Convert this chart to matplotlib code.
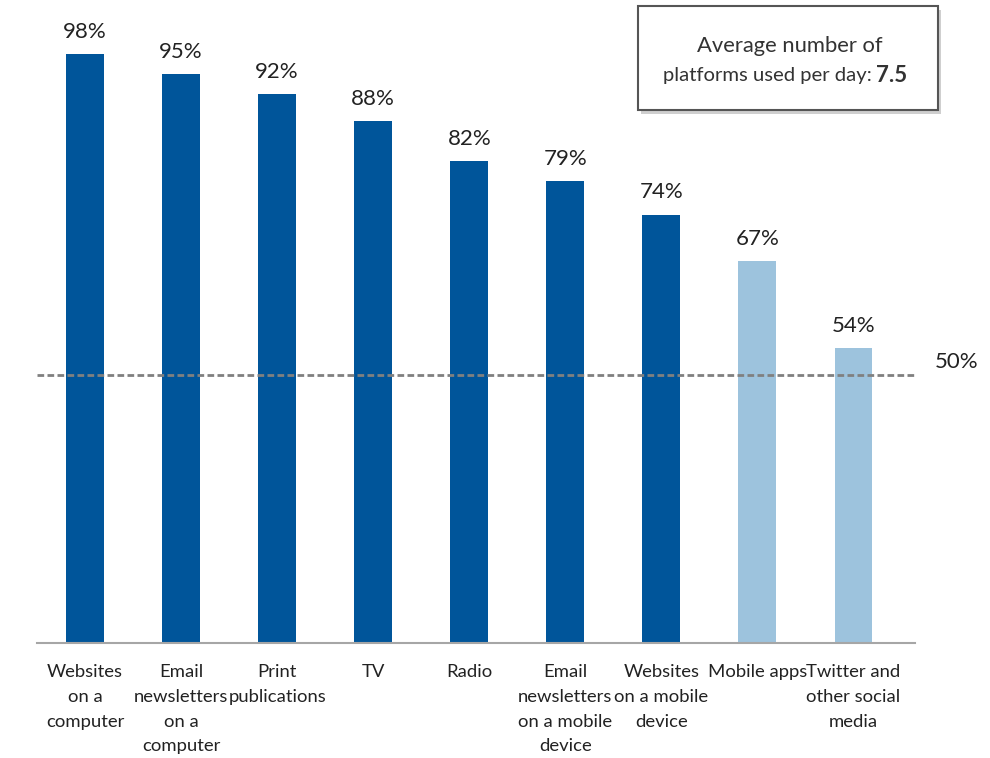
import matplotlib.pyplot as plt
from matplotlib.patches import Rectangle

categories = [
    "Websites\non a\ncomputer",
    "Email\nnewsletters\non a\ncomputer",
    "Print\npublications",
    "TV",
    "Radio",
    "Email\nnewsletters\non a mobile\ndevice",
    "Websites\non a mobile\ndevice",
    "Mobile apps",
    "Twitter and\nother social\nmedia",
]
values = [98, 95, 92, 88, 82, 79, 74, 67, 54]
reference_line = 50

DARK = "#00559a"
LIGHT = "#9dc3dd"
colors = [DARK] * 7 + [LIGHT] * 2

plt.rcParams["font.family"] = ["Lato", "DejaVu Sans"]

fig = plt.figure(figsize=(9.9, 7.58), dpi=100)
W, H = 990, 758
ax = fig.add_axes([37 / W, 1 - 643 / H, (915 - 37) / W, (643 - 20) / H])

x = list(range(len(values)))
ax.bar(x, values, width=0.395, color=colors, zorder=2)
ax.set_xlim(-0.5, 8.64)
ax.set_ylim(9.9, 103.1)

for xi, v in zip(x, values):
    ax.text(xi, v + 1.8, f"{v}%", ha="center", va="bottom", fontsize=16, color="#222222")

ax.axhline(reference_line, color="#808080", lw=2.0, ls=(0, (2.4, 1.2)), zorder=3)
ax.text(1.022, reference_line + 0.4, f"{reference_line}%", transform=ax.get_yaxis_transform(),
        ha="left", va="bottom", fontsize=16, color="#222222")

for s in ["top", "right", "left"]:
    ax.spines[s].set_visible(False)
ax.spines["bottom"].set_color("#a6a6a6")
ax.spines["bottom"].set_linewidth(1.5)
ax.set_yticks([])
ax.set_xticks(x)
ax.set_xticklabels(categories, fontsize=13.3, color="#222222", linespacing=1.68)
ax.tick_params(axis="x", length=0, pad=15)

# summary box in the top right corner
shadow = Rectangle((641 / W, 1 - 114 / H), 300 / W, 104 / H, transform=fig.transFigure,
                   facecolor="#b0b0b0", edgecolor="none", alpha=0.6)
box = Rectangle((638 / W, 1 - 110 / H), 300 / W, 104 / H, transform=fig.transFigure,
                facecolor="white", edgecolor="#555555", lw=1.5)
fig.add_artist(shadow)
fig.add_artist(box)
fig.text(790 / W, 1 - 46 / H, "Average number of", ha="center", va="center",
         fontsize=15.8, color="#333333")
fig.text(872 / W, 1 - 76 / H, "platforms used per day:", ha="right", va="center",
         fontsize=14.6, color="#333333")
fig.text(876 / W, 1 - 76 / H, "7.5", ha="left", va="center",
         fontsize=16, fontweight="bold", color="#333333")

fig.savefig("out.png", dpi=100)
